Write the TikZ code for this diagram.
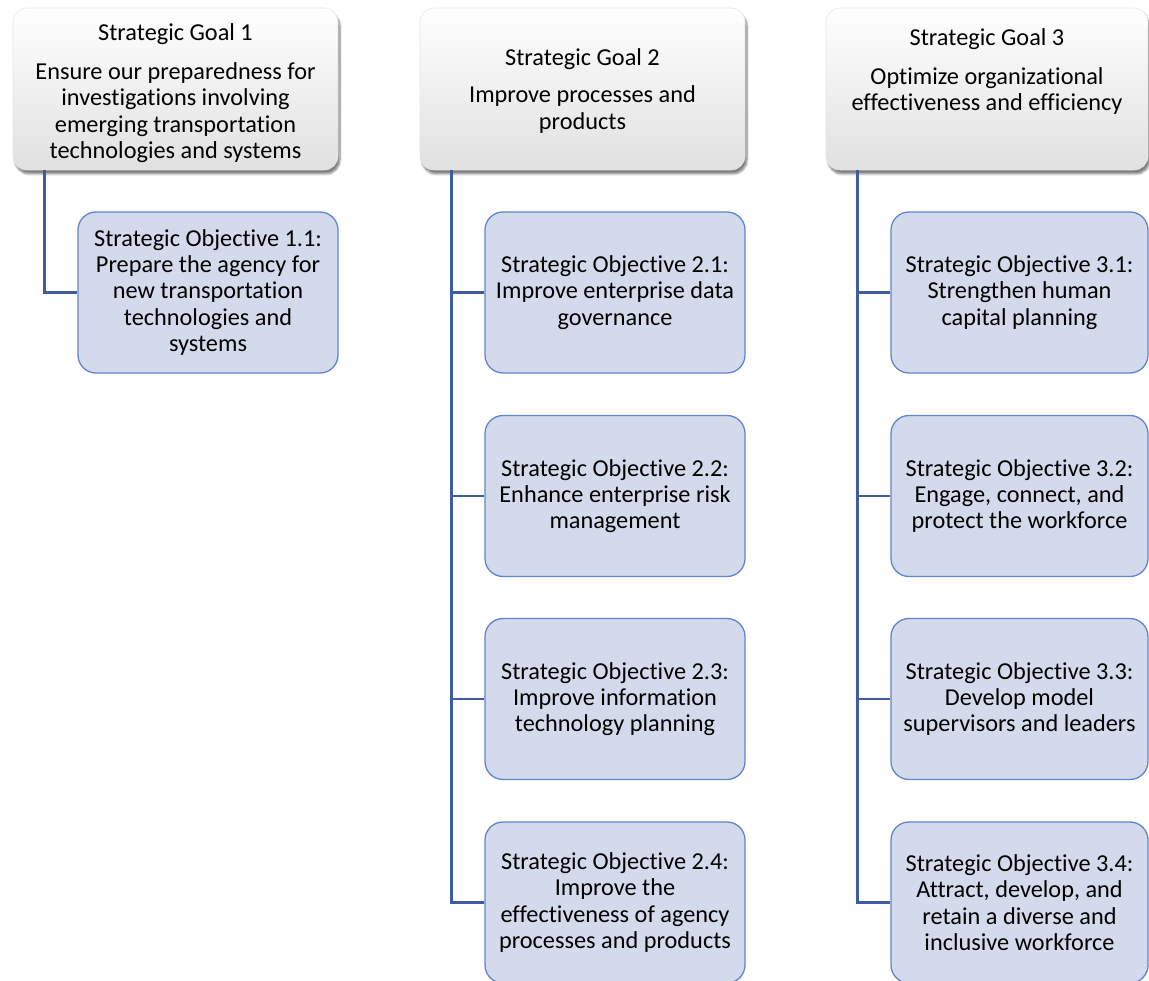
\documentclass[tikz,border=0pt]{standalone}
\usepackage{fontspec}
\setmainfont{Carlito}[Ligatures=NoCommon]
\usetikzlibrary{shadows.blur}
\definecolor{connblue}{RGB}{62,92,160}
\definecolor{objline}{RGB}{98,132,204}
\definecolor{objfill}{RGB}{211,218,236}
\tikzset{
  goalbox/.style={rectangle, rounded corners=14pt, top color=white, bottom color=black!12,
    draw=black!10, line width=0.6pt, minimum height=162pt, inner sep=0pt,
    blur shadow={shadow xshift=2pt, shadow yshift=-4pt, shadow blur steps=8, shadow opacity=50}},
  objbox/.style={rectangle, rounded corners=18pt, fill=objfill, draw=objline, line width=1.3pt,
    minimum height=161pt, inner sep=0pt, font=\fontsize{24.3}{26.3}\selectfont, align=center},
  txt/.style={font=\fontsize{24.3}{26.3}\selectfont, align=center, inner sep=0pt, text=black},
  connline/.style={draw=connblue, line width=2.7pt}
}
\begin{document}
\begin{tikzpicture}[x=1pt,y=-1pt]
\useasboundingbox (0,0) rectangle (1149,981);
% goal boxes
\node[goalbox, minimum width=325pt] (g1) at (175.5,89) {};
\node[goalbox, minimum width=325pt] (g2) at (582.5,89) {};
\node[goalbox, minimum width=322pt] (g3) at (987,89) {};
\node[txt, anchor=north] (g1t) at (175.5,23.5) {Strategic Goal 1\\[12.7pt]Ensure our preparedness for\\investigations involving\\emerging transportation\\technologies and systems};
\node[txt, anchor=north] (g2t) at (582.5,48.5) {Strategic Goal 2\\[11pt]Improve processes and\\products};
\node[txt, anchor=north] (g3t) at (987,28.5) {Strategic Goal 3\\[12.7pt]Optimize organizational\\effectiveness and efficiency};
% connector stems
\coordinate (c1) at ([xshift=32pt]g1.south west);
\coordinate (c2) at ([xshift=32pt]g2.south west);
\coordinate (c3) at ([xshift=32pt]g3.south west);
% objective boxes
\node[objbox, minimum width=260pt] (o11) at (208,292.5) {Strategic Objective 1.1:\\Prepare the agency for\\new transportation\\technologies and\\systems};
\node[objbox, minimum width=260pt] (o21) at (615,292.5) {Strategic Objective 2.1:\\Improve enterprise data\\governance};
\node[objbox, minimum width=260pt] (o22) at (615,496) {Strategic Objective 2.2:\\Enhance enterprise risk\\management};
\node[objbox, minimum width=260pt] (o23) at (615,699) {Strategic Objective 2.3:\\Improve information\\technology planning};
\node[objbox, minimum width=260pt] (o24) at (615,902.5) {Strategic Objective 2.4:\\Improve the\\effectiveness of agency\\processes and products};
\node[objbox, minimum width=257pt] (o31) at (1019.5,292.5) {Strategic Objective 3.1:\\Strengthen human\\capital planning};
\node[objbox, minimum width=257pt] (o32) at (1019.5,496) {Strategic Objective 3.2:\\Engage, connect, and\\protect the workforce};
\node[objbox, minimum width=257pt] (o33) at (1019.5,699) {Strategic Objective 3.3:\\Develop model\\supervisors and leaders};
\node[objbox, minimum width=257pt] (o34) at (1019.5,902.5) {Strategic Objective 3.4:\\Attract, develop, and\\retain a diverse and\\inclusive workforce};
% connectors
\draw[connline] (c1) |- (o11.west);
\draw[connline] (c2) |- (o24.west);
\draw[connline] (o21.west -| c2) -- (o21.west);
\draw[connline] (o22.west -| c2) -- (o22.west);
\draw[connline] (o23.west -| c2) -- (o23.west);
\draw[connline] (c3) |- (o34.west);
\draw[connline] (o31.west -| c3) -- (o31.west);
\draw[connline] (o32.west -| c3) -- (o32.west);
\draw[connline] (o33.west -| c3) -- (o33.west);
\end{tikzpicture}
\end{document}
